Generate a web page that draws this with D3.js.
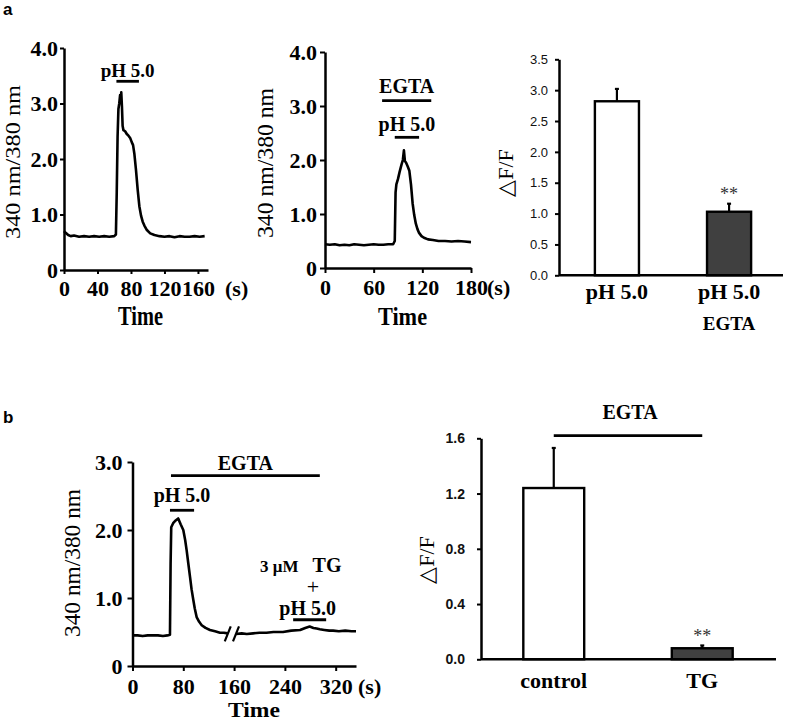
<!DOCTYPE html>
<html><head><meta charset="utf-8">
<script src="https://cdn.jsdelivr.net/npm/d3@7"></script>
<style>html,body{margin:0;padding:0;background:#fff;}svg{display:block;}</style>
</head><body>
<svg id="c" width="787" height="722"></svg>
<script>
// ---------------- DATA ----------------
// Panel a, left trace: [time (s), 340/380 ratio]
const traceA1 = [[0,0.70],[2,0.67],[5,0.63],[8,0.61],[12,0.62],[18,0.60],[24,0.61],[30,0.60],[36,0.61],[42,0.60],[48,0.61],[54,0.60],[60,0.61],[62,0.64],[63,1.4],[64,2.4],[65,2.9],[66,3.0],[67,3.15],[67.6,3.05],[68.4,3.2],[69.2,2.95],[70,2.6],[71,2.52],[73,2.5],[75,2.45],[77,2.42],[79,2.38],[81,2.3],[82.5,2.25],[84,2.1],[86,1.8],[88,1.45],[90,1.15],[92,0.98],[94,0.87],[96,0.8],[99,0.72],[103,0.66],[108,0.63],[114,0.61],[120,0.60],[126,0.61],[132,0.59],[138,0.61],[144,0.60],[150,0.60],[156,0.61],[162,0.60],[168,0.61]];
const xTicksA1 = [0,40,80,120,160];
const yTicksTrace4 = [0,1,2,3,4];
const pHBarA1 = [62.6, 89.5, 3.4];           // [start s, end s, level]

// Panel a, middle trace (EGTA)
const traceA2 = [[0,0.44],[6,0.43],[12,0.44],[18,0.42],[24,0.43],[30,0.42],[36,0.44],[42,0.43],[48,0.42],[54,0.43],[60,0.44],[66,0.43],[72,0.43],[78,0.44],[84,0.44],[86,0.5],[87,1.4],[88,1.55],[90,1.65],[92,1.78],[94.4,1.92],[96,2.0],[97.3,2.18],[98.5,1.98],[100,1.95],[102,1.88],[104,1.8],[106,1.55],[108,1.2],[110,0.98],[112,0.82],[114,0.72],[116,0.65],[119,0.59],[122,0.56],[127,0.53],[133,0.52],[140,0.5],[148,0.5],[156,0.49],[164,0.5],[172,0.49],[180,0.48]];
const xTicksA2 = [0,60,120,180];
const egtaBarA2 = [70.4, 131, 3.1];
const pHBarA2 = [86, 116, 2.42];

// Panel a, right bars
const catsA = ["pH 5.0", "pH 5.0 EGTA"];
const catLabelsA = [["pH 5.0"], ["pH 5.0", "EGTA"]];
const valuesA = [2.82, 1.03];
const errorsA = [0.20, 0.13];
const yTicksA = [0,0.5,1.0,1.5,2.0,2.5,3.0,3.5];
const sigA = ["", "**"];

// Panel b, left trace (broken time axis)
const traceB1pre = [[0,0.45],[8,0.45],[16,0.44],[24,0.45],[32,0.45],[40,0.45],[48,0.44],[55,0.45],[59,0.46],[60,1.5],[61,2.04],[64,2.1],[68,2.14],[72,2.17],[76,2.08],[80,2.0],[83,1.85],[85.3,1.7],[88,1.5],[90.6,1.31],[93,1.13],[95.8,0.97],[98,0.85],[101,0.72],[105,0.65],[109,0.6],[115,0.56],[122,0.53],[130,0.51],[137.8,0.49],[144,0.49],[150,0.48]];
const traceB1post = [[163,0.47],[172,0.48],[180,0.47],[190,0.48],[200,0.49],[211,0.49],[222,0.5],[237,0.5],[250,0.52],[264,0.53],[272,0.56],[279,0.58],[285,0.56],[290,0.55],[295,0.54],[302,0.53],[310,0.52],[316,0.52],[325,0.51],[335,0.52],[345,0.51],[352,0.51]];
const xTicksB1 = [0,80,160,240,320];
const yTicksB1 = [0,1,2,3];
const egtaBarB1 = [60.6, 295, 2.8];
const pHBarB1 = [59, 97, 2.29];
const tgBarB1 = [253, 305, 0.68];
const breakB1 = [150, 163];

// Panel b, right bars
const catsB = ["control", "TG"];
const valuesB = [1.24, 0.08];
const errorsB = [0.29, 0.02];
const yTicksB = [0,0.4,0.8,1.2,1.6];
const sigB = ["", "**"];

// ---------------- DRAWING ----------------
const svg = d3.select("#c");
const SERIF = "'Liberation Serif','Times New Roman',serif";
const SANS = "'Liberation Sans',Arial,sans-serif";

function styleAxis(a, font, size, weight) {
  a.select(".domain").attr("stroke", "#000").attr("stroke-width", 2.5);
  a.selectAll(".tick line").attr("stroke", "#000").attr("stroke-width", 2);
  a.selectAll("text").attr("font-family", font).attr("font-size", size)
    .attr("font-weight", weight).attr("fill", "#000");
}

function txt(g, x, y, s, size, weight, font, anchor) {
  return g.append("text").attr("x", x).attr("y", y).text(s)
    .attr("font-family", font || SERIF).attr("font-size", size)
    .attr("font-weight", weight || "bold").attr("text-anchor", anchor || "middle").attr("fill", "#000");
}

function hbar(g, x, y, b) {
  g.append("line").attr("x1", x(b[0])).attr("x2", x(b[1])).attr("y1", y(b[2])).attr("y2", y(b[2]))
    .attr("stroke", "#000").attr("stroke-width", 2.8);
}

function tracePanel(o) {
  const g = svg.append("g");
  const x = d3.scaleLinear().domain(o.xDomain).range(o.xRange);
  const y = d3.scaleLinear().domain(o.yDomain).range(o.yRange);
  const ax = g.append("g").attr("transform", `translate(0,${o.yRange[0]})`)
    .call(d3.axisBottom(x).tickValues(o.xTicks).tickFormat(d3.format("d"))
      .tickSize(o.tick).tickPadding(o.xPad).tickSizeOuter(0));
  styleAxis(ax, SERIF, o.fs, "bold");
  const ay = g.append("g").attr("transform", `translate(${o.xRange[0]},0)`)
    .call(d3.axisLeft(y).tickValues(o.yTicks).tickFormat(d => d === 0 ? "0" : d.toFixed(1))
      .tickSize(o.tick).tickPadding(o.yPad).tickSizeOuter(0));
  styleAxis(ay, SERIF, o.fs, "bold");
  const line = d3.line().x(d => x(d[0])).y(d => y(d[1]));
  o.traces.forEach(t => g.append("path").attr("d", line(t)).attr("fill", "none")
    .attr("stroke", "#000").attr("stroke-width", 2.6).attr("stroke-linejoin", "round"));
  const baseY = o.yRange[0] + o.tick + o.xPad + o.fs * 0.71;
  txt(g, o.unitX, baseY, "(s)", o.fs, "bold", SERIF, "start");
  txt(g, o.timeX, o.timeY, "Time", o.timeFs, "bold")
    .attr("textLength", o.timeLen).attr("lengthAdjust", "spacingAndGlyphs");
  g.append("text").attr("transform", `translate(${o.ylabX},${(o.yRange[0] + o.yRange[1]) / 2 + o.ylabDy}) rotate(-90)`)
    .attr("text-anchor", "middle").attr("font-family", SERIF).attr("font-size", o.ylabFs).attr("fill", "#000")
    .attr("textLength", o.ylabLen).attr("lengthAdjust", "spacingAndGlyphs")
    .text("340 nm/380 nm");
  return {g, x, y};
}

function barPanel(o) {
  const g = svg.append("g");
  const x = d3.scaleBand().domain(o.cats).range(o.bandRange).paddingInner(o.pi).paddingOuter(o.po);
  const y = d3.scaleLinear().domain(o.yDomain).range(o.yRange);
  const ay = g.append("g").attr("transform", `translate(${o.axisX},0)`)
    .call(d3.axisLeft(y).tickValues(o.yTicks).tickFormat(d3.format(".1f"))
      .tickSize(4).tickPadding(o.tickPad).tickSizeOuter(0));
  styleAxis(ay, SANS, o.tickFs, o.tickWeight);
  ay.selectAll("text").attr("fill", "#111");
  o.cats.forEach((c, i) => {
    const cx = x(c) + x.bandwidth() / 2;
    const top = y(o.values[i] + o.errors[i]);
    g.append("line").attr("x1", cx).attr("x2", cx).attr("y1", y(o.values[i])).attr("y2", top)
      .attr("stroke", "#000").attr("stroke-width", 2.2);
    g.append("line").attr("x1", cx - 2).attr("x2", cx + 2).attr("y1", top).attr("y2", top)
      .attr("stroke", "#000").attr("stroke-width", 2.2);
    g.append("rect").attr("x", x(c)).attr("width", x.bandwidth())
      .attr("y", y(o.values[i])).attr("height", y(0) - y(o.values[i]))
      .attr("fill", o.fills[i]).attr("stroke", "#000").attr("stroke-width", 2.4);
    if (o.sig[i]) txt(g, cx, top - o.sigDy, o.sig[i], 18, "normal", SERIF).attr("fill", "#333");
    o.catLabels[i].forEach((s, k) => txt(g, cx, o.catY[k], s, o.catFs[k], "bold"));
  });
  g.append("line").attr("x1", o.axisX).attr("x2", o.xEnd).attr("y1", y(0)).attr("y2", y(0))
    .attr("stroke", "#000").attr("stroke-width", 2.5);
  g.append("text").attr("transform", `translate(${o.ylabX},${o.ylabY}) rotate(-90)`)
    .attr("text-anchor", "middle").attr("font-family", SERIF).attr("font-size", 22).attr("fill", "#000")
    .text("\u25B3F/F");
  return {g, x, y};
}

// Panel letters
txt(svg, 3, 15, "a", 17, "bold", SANS, "start");
txt(svg, 3, 423, "b", 17, "bold", SANS, "start");

// a-left
{
  const p = tracePanel({xDomain: [0, 172], xRange: [64, 208], yDomain: [0, 4], yRange: [270, 48],
    xTicks: xTicksA1, yTicks: yTicksTrace4, tick: 4, xPad: 6, yPad: 2, fs: 22,
    traces: [traceA1], unitX: 225, timeX: 140.5, timeY: 325, timeFs: 27, timeLen: 45,
    ylabX: 20, ylabDy: 3, ylabFs: 22, ylabLen: 154});
  hbar(p.g, p.x, p.y, pHBarA1);
  txt(p.g, p.x((pHBarA1[0] + pHBarA1[1]) / 2), 77, "pH 5.0", 19, "bold");
}
// a-middle
{
  const p = tracePanel({xDomain: [0, 180], xRange: [325, 471], yDomain: [0, 4], yRange: [268, 52],
    xTicks: xTicksA2, yTicks: yTicksTrace4, tick: 5, xPad: 6, yPad: 3, fs: 22,
    traces: [traceA2], unitX: 487, timeX: 402.5, timeY: 325, timeFs: 25, timeLen: 49,
    ylabX: 273, ylabDy: 3, ylabFs: 23, ylabLen: 150});
  hbar(p.g, p.x, p.y, egtaBarA2);
  txt(p.g, p.x((egtaBarA2[0] + egtaBarA2[1]) / 2), 93, "EGTA", 20, "bold");
  hbar(p.g, p.x, p.y, pHBarA2);
  txt(p.g, p.x((pHBarA2[0] + pHBarA2[1]) / 2), 131, "pH 5.0", 20, "bold");
}
// a-right
barPanel({cats: catsA, catLabels: catLabelsA, values: valuesA, errors: errorsA, yTicks: yTicksA,
  sig: sigA, fills: ["#fff", "#404040"], bandRange: [559, 787], pi: 0.607, po: 0.32,
  yDomain: [0, 3.5], yRange: [275.3, 59.3], axisX: 559, xEnd: 783, tickWeight: "normal", tickFs: 13, tickPad: 7,
  catY: [299, 330], catFs: [22, 19], sigDy: 4, ylabX: 513, ylabY: 173});

// b-left
{
  const p = tracePanel({xDomain: [0, 352], xRange: [132.5, 356], yDomain: [0, 3], yRange: [666, 462],
    xTicks: xTicksB1, yTicks: yTicksB1, tick: 5, xPad: 7, yPad: 5, fs: 22,
    traces: [traceB1pre, traceB1post], unitX: 358, timeX: 254, timeY: 717, timeFs: 21, timeLen: 52,
    ylabX: 80, ylabDy: -1, ylabFs: 23, ylabLen: 148});
  breakB1.forEach(t => {
    const bx = p.x(t), by = p.y(0.48);
    p.g.append("line").attr("x1", bx - 3).attr("x2", bx + 3).attr("y1", by + 8).attr("y2", by - 7)
      .attr("stroke", "#000").attr("stroke-width", 2.2);
  });
  hbar(p.g, p.x, p.y, egtaBarB1);
  txt(p.g, p.x((egtaBarB1[0] + egtaBarB1[1]) / 2), 470, "EGTA", 20, "bold");
  hbar(p.g, p.x, p.y, pHBarB1);
  txt(p.g, p.x((pHBarB1[0] + pHBarB1[1]) / 2), 502, "pH 5.0", 20, "bold");
  hbar(p.g, p.x, p.y, tgBarB1);
  txt(p.g, 260, 572, "3 \u03BCM", 17, "bold", SERIF, "start");
  txt(p.g, 327, 572, "TG", 20, "bold");
  txt(p.g, 313, 594, "+", 22, "normal");
  txt(p.g, p.x((tgBarB1[0] + tgBarB1[1]) / 2) - 2, 615, "pH 5.0", 20, "bold");
}
// b-right
{
  const p = barPanel({cats: catsB, catLabels: catsB.map(c => [c]), values: valuesB, errors: errorsB, yTicks: yTicksB,
    sig: sigB, fills: ["#fff", "#404040"], bandRange: [481, 775], pi: 0.59, po: 0.285,
    yDomain: [0, 1.6], yRange: [659.3, 438.3], axisX: 481, xEnd: 776, tickWeight: "bold", tickFs: 14, tickPad: 12,
    catY: [688], catFs: [22], sigDy: 3, ylabX: 434, ylabY: 560});
  const c0 = p.x(catsB[0]) + p.x.bandwidth() / 2, c1 = p.x(catsB[1]) + p.x.bandwidth() / 2;
  p.g.append("line").attr("x1", c0).attr("x2", c1).attr("y1", p.y(1.62)).attr("y2", p.y(1.62))
    .attr("stroke", "#000").attr("stroke-width", 2.8);
  txt(p.g, (c0 + c1) / 2 + 2, 419, "EGTA", 20, "bold");
}
</script>
</body></html>
